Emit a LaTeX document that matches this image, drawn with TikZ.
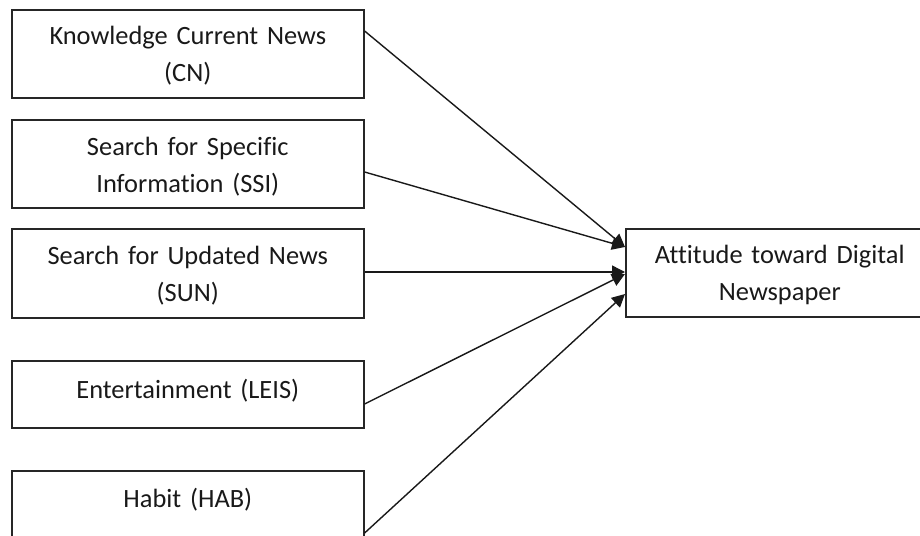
\documentclass[tikz,border=0pt]{standalone}
\usepackage{fontspec}
\setmainfont{Carlito}[Ligatures={NoCommon,NoContextual,NoRequired}]
\usetikzlibrary{arrows.meta}
\begin{document}
\begin{tikzpicture}[x=1pt,y=-1pt,
  box/.style={draw=black!85,line width=1.6pt,anchor=north west,text width=352pt,inner xsep=0pt,inner ysep=0pt,align=center,text height=35pt,text depth=53pt,font=\fontsize{26.4}{37}\selectfont,text=black!90},
  link/.style={->,>={Triangle[length=13pt,width=13pt]},line width=1.4pt,black!90}]
\clip (0,0) rectangle (920,535);
\node[box] (cn) at (11,9) {Knowledge Current News\\(CN)};
\node[box,text height=36pt,text depth=52pt] (ssi) at (11,119) {Search for Specific\\Information (SSI)};
\node[box,text height=36pt,text depth=53pt] (sun) at (11,228) {Search for Updated News\\(SUN)};
\node[box,text height=38pt,text depth=29pt] (leis) at (11,360) {Entertainment (LEIS)};
\node[box,text height=37pt,text depth=100pt] (hab) at (11,470) {Habit (HAB)};
\node[box,text width=308pt,text height=35pt,text depth=53pt] (att) at (625,228) {Attitude toward Digital\\Newspaper};

\draw[link] ([yshift=-22pt]cn.north east) -- ([yshift=-19pt]att.north west);
\draw[link] ([yshift=-53pt]ssi.north east) -- ([yshift=-19pt]att.north west);
\draw[link] ([yshift=-44pt]sun.north east) -- ([yshift=-44pt]att.north west);
\draw[link] ([yshift=-44pt]leis.north east) -- ([yshift=-46pt]att.north west);
\draw[link] ([yshift=-63pt]hab.north east) -- ([yshift=-66pt]att.north west);
\end{tikzpicture}
\end{document}
